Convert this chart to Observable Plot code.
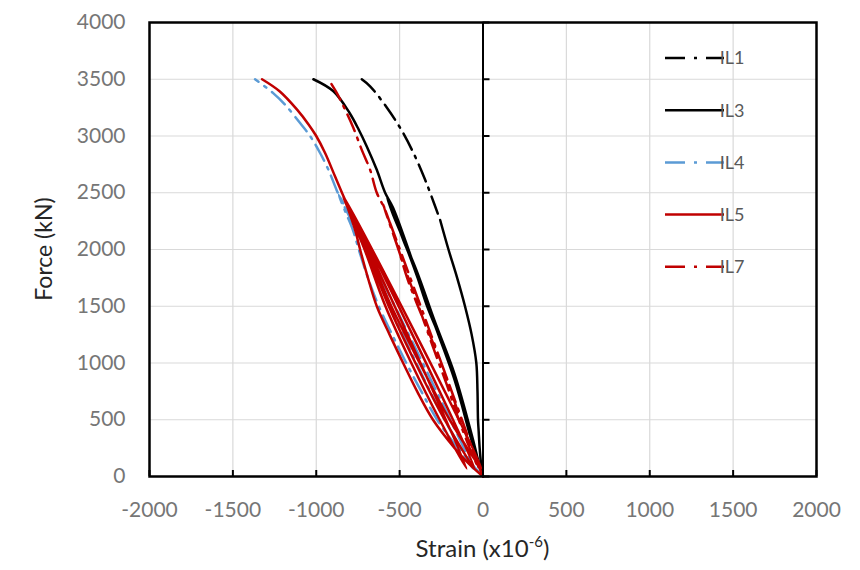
<!DOCTYPE html>
<html><head><meta charset="utf-8">
<script src="https://cdn.jsdelivr.net/npm/d3@7"></script>
<script src="https://cdn.jsdelivr.net/npm/@observablehq/plot@0.6"></script>
<style>body{margin:0;background:#fff;} #chart{width:860px;height:570px;}</style>
</head><body><div id="chart"></div>
<script>
const seriesNames = ["IL1", "IL3", "IL4", "IL5", "IL7"];
const seriesColors = ["#000000", "#000000", "#5B9BD5", "#C00000", "#C00000"];
const seriesDashed = [true, false, true, false, true];
const xTicks = [-2000, -1500, -1000, -500, 0, 500, 1000, 1500, 2000];
const yTicks = [0, 500, 1000, 1500, 2000, 2500, 3000, 3500, 4000];

const il1Strain = [0, -12, -20, -26, -30, -33, -40, -68, -108, -155, -207, -257, -317, -347, -417, -490, -575, -677, -727];
const il1Force  = [0, 120, 250, 400, 500, 750, 1000, 1250, 1500, 1750, 2000, 2260, 2500, 2614, 2850, 3055, 3247, 3438, 3500];

const il3Strain = [0, -50, -98, -145, -195, -265, -335, -392, -438, -478, -538, -575,
  -540, -400, -290, -170, -70, -18,
  -75, -170, -305, -435, -540, -587, -637, -697, -745, -800, -897, -1017];
const il3Force  = [0, 250, 500, 750, 1000, 1250, 1500, 1750, 1936, 2084, 2320, 2460,
  2310, 1820, 1370, 900, 380, 70,
  350, 850, 1400, 1950, 2370, 2500, 2702, 2908, 3055, 3203, 3394, 3500];

const il4Strain = [0, -150, -275, -370, -460, -545, -625, -690, -745, -780, -830, -865,
  -60,
  -230, -400, -560, -705, -865, -877, -927, -977, -1037, -1097, -1187, -1260, -1367];
const il4Force  = [0, 250, 500, 750, 1000, 1250, 1500, 1750, 2000, 2172, 2349, 2480,
  70,
  500, 1000, 1500, 2000, 2480, 2520, 2702, 2850, 3000, 3114, 3276, 3380, 3500];

const il5Strain = [0, -90, -170, -300, -395, -479, -560, -637, -690, -737, -767, -807, -840,
  -98,
  -260, -430, -585, -710, -840,
  -50,
  -230, -405, -565, -700, -840,
  -8,
  -200, -380, -550, -695, -840, -887, -947, -1000, -1045, -1115, -1220, -1325];
const il5Force  = [0, 120, 250, 500, 750, 1000, 1250, 1500, 1750, 2000, 2172, 2349, 2480,
  70,
  500, 1000, 1500, 2000, 2480,
  70,
  500, 1000, 1500, 2000, 2480,
  70,
  500, 1000, 1500, 2000, 2480, 2643, 2850, 3000, 3100, 3232, 3394, 3500];

const il7Strain = [0, -70, -135, -190, -250, -320, -390, -455, -507, -547, -600,
  -25,
  -80, -150, -215, -285, -350, -415, -480, -535, -587, -637, -677, -727, -777, -827, -877, -927];
const il7Force  = [0, 250, 500, 750, 1000, 1250, 1500, 1750, 2000, 2172, 2400,
  70,
  250, 520, 800, 1080, 1350, 1620, 1880, 2130, 2349, 2500, 2702, 2878, 3070, 3232, 3380, 3500];

const seriesStrains = [il1Strain, il3Strain, il4Strain, il5Strain, il7Strain];
const seriesForces = [il1Force, il3Force, il4Force, il5Force, il7Force];

const dash = "18,7,2.5,7";
const lineMarks = [];
seriesNames.forEach((name, k) => {
  const rows = seriesStrains[k].map((s, i) => ({series: name, strain: s, force: seriesForces[k][i]}));
  const base = {x: "strain", y: "force", stroke: seriesColors[k], strokeWidth: 2.5,
    curve: "catmull-rom", strokeLinejoin: "round"};
  if (name === "IL1") {
    // dense, noisy lower part of IL1 renders as an apparently solid line in the original
    lineMarks.push(Plot.line(rows.filter(d => d.force <= 2260), base));
    lineMarks.push(Plot.line(rows.filter(d => d.force >= 2260).reverse(), {...base, strokeDasharray: dash}));
  } else {
    lineMarks.push(Plot.line(rows, {...base, strokeDasharray: seriesDashed[k] ? dash : null}));
  }
});

const W = 860, H = 570, mL = 149, mR = 44, mT = 22, mB = 94;
const plotH = H - mT - mB;
const plotW = W - mL - mR;
const x0 = mL + plotW / 2;

const chart = Plot.plot({
  width: W, height: H,
  marginLeft: mL, marginRight: mR, marginTop: mT, marginBottom: mB,
  x: {domain: [-2000, 2000]},
  y: {domain: [0, 4000]},
  style: {fontFamily: "Lato, sans-serif", background: "white"},
  marks: [
    Plot.gridX(xTicks.slice(1, -1), {stroke: "#d9d9d9", strokeOpacity: 1, strokeWidth: 1.2}),
    Plot.gridY(yTicks.slice(1, -1), {stroke: "#d9d9d9", strokeOpacity: 1, strokeWidth: 1.2}),
    ...lineMarks,
    Plot.ruleX([0], {stroke: "black", strokeWidth: 2}),
    Plot.tickX(xTicks, {x: d => d, insetTop: plotH - 6, stroke: "black", strokeWidth: 2}),
    Plot.tickY(yTicks, {y: d => d, insetLeft: x0 - mL, insetRight: W - mR - (x0 + 7), stroke: "black", strokeWidth: 2}),
    Plot.frame({stroke: "black", strokeWidth: 2.5}),
    Plot.axisX(xTicks, {tickSize: 0, tickPadding: 26, fontSize: 21, fill: "#767676", label: null, tickFormat: d => String(d)}),
    Plot.axisY(yTicks, {tickSize: 0, tickPadding: 24, fontSize: 21, fill: "#767676", label: null, tickFormat: d => String(d)})
  ]
});

const svg = d3.select(chart);
// axis titles
const xt = svg.append("text").attr("x", x0).attr("y", 557).attr("text-anchor", "middle")
  .attr("font-family", "Lato, sans-serif").attr("font-size", 24).attr("fill", "#262626");
xt.append("tspan").text("Strain (x10");
xt.append("tspan").attr("font-size", 15).attr("dy", -10).text("-6");
xt.append("tspan").attr("dy", 10).text(")");
svg.append("text").attr("transform", "translate(52,249) rotate(-90)").attr("text-anchor", "middle")
  .attr("font-family", "Lato, sans-serif").attr("font-size", 23).attr("fill", "#262626").text("Force (kN)");

// legend
const lg = svg.append("g");
seriesNames.forEach((name, k) => {
  const y = 58 + k * 52.2;
  lg.append("line").attr("x1", 665).attr("x2", 724).attr("y1", y).attr("y2", y)
    .attr("stroke", seriesColors[k]).attr("stroke-width", 2.5)
    .attr("stroke-dasharray", seriesDashed[k] ? "20,9,3,9" : null);
  lg.append("text").attr("x", 732).attr("y", y).attr("dy", "0.35em")
    .attr("font-family", "Lato, sans-serif").attr("font-size", 18).attr("fill", "#595959").text(name);
});

document.getElementById("chart").appendChild(chart);
</script>
</body></html>
